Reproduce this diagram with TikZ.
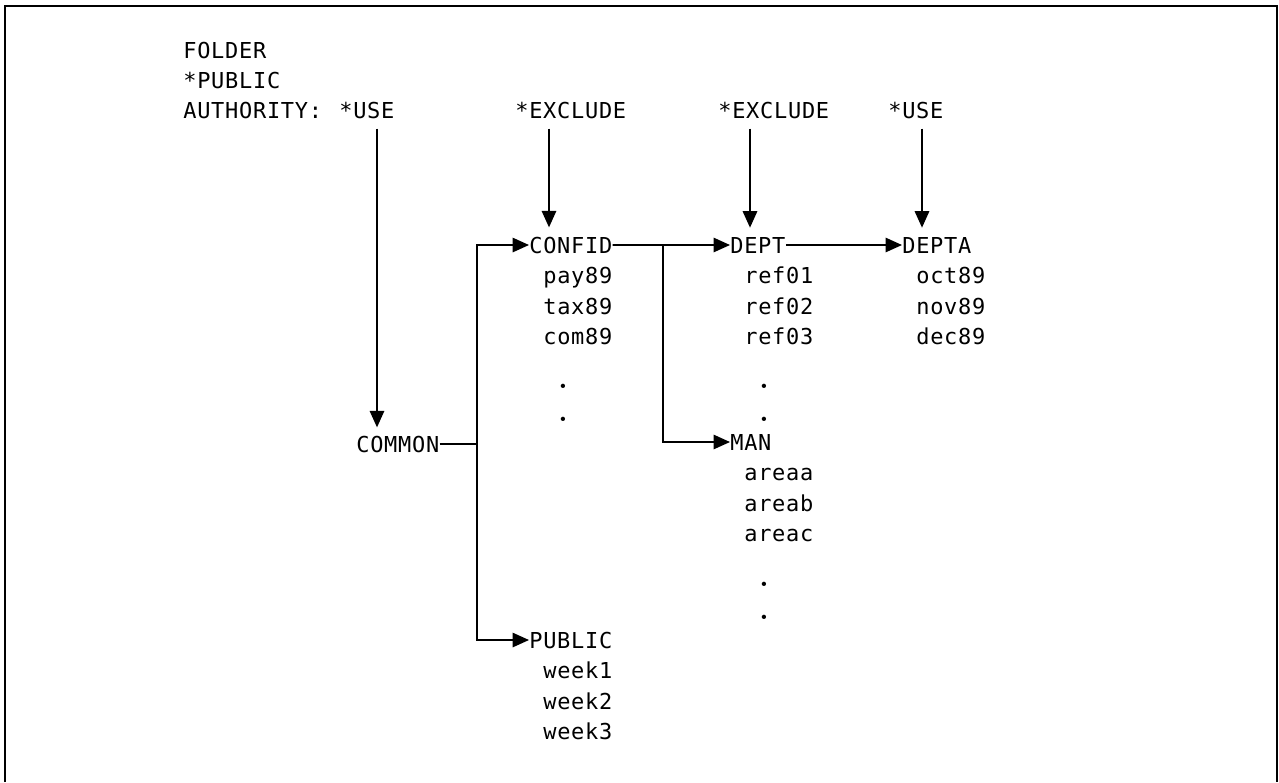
\documentclass[tikz,border=0pt]{standalone}
\usepackage{fontspec}
\setmonofont{DejaVu Sans Mono}[LetterSpace=3.3]
\usetikzlibrary{arrows.meta}
\begin{document}
\begin{tikzpicture}[x=0.02cm,y=-0.02cm,
  lbl/.style={inner sep=0pt, anchor=base west, font=\ttfamily\fontsize{12.5}{15}\selectfont},
  dotlbl/.style={inner sep=0pt, anchor=base, text height=0.1cm, text depth=0pt, font=\rmfamily\bfseries\fontsize{17}{18}\selectfont},
  conn/.style={line width=0.9pt},
  tip/.tip={Triangle[length=0.33cm,width=0.29cm]},
  arr/.style={conn, -tip},
  frame/.style={line width=1.1pt}]
\useasboundingbox (0,0) rectangle (1279,782);
\draw[frame] (5,782) -- (5,6) -- (1277,6) -- (1277,782);

% header
\node[lbl] (folder) at (183,58) {FOLDER};
\node[lbl] (pub) at (183,88) {*PUBLIC};
\node[lbl] (auth) at (183,118) {AUTHORITY:};
\node[lbl] (use1) at (339,118) {*USE};
\node[lbl] (ex1) at (515,118) {*EXCLUDE};
\node[lbl] (ex2) at (718,118) {*EXCLUDE};
\node[lbl] (use2) at (888,118) {*USE};

% folders
\node[lbl] (common) at (356,452) {COMMON};
\node[lbl] (confid) at (529,253) {CONFID};
\node[lbl] (c1) at (543,283.5) {pay89};
\node[lbl] (c2) at (543,314) {tax89};
\node[lbl] (c3) at (543,344.5) {com89};
\node[dotlbl] (cd1) at (563,388) {.};
\node[dotlbl] (cd2) at (563,421) {.};

\node[lbl] (public) at (529,648) {PUBLIC};
\node[lbl] (p1) at (543,678.5) {week1};
\node[lbl] (p2) at (543,709) {week2};
\node[lbl] (p3) at (543,739.5) {week3};

\node[lbl] (dept) at (730,253) {DEPT};
\node[lbl] (d1) at (744,283.5) {ref01};
\node[lbl] (d2) at (744,314) {ref02};
\node[lbl] (d3) at (744,344.5) {ref03};
\node[dotlbl] (dd1) at (764,388) {.};
\node[dotlbl] (dd2) at (764,421) {.};

\node[lbl] (man) at (730,450) {MAN};
\node[lbl] (m1) at (744,480.5) {areaa};
\node[lbl] (m2) at (744,511) {areab};
\node[lbl] (m3) at (744,541.5) {areac};
\node[dotlbl] (md1) at (764,586) {.};
\node[dotlbl] (md2) at (764,619) {.};

\node[lbl] (depta) at (902,253) {DEPTA};
\node[lbl] (e1) at (916,283.5) {oct89};
\node[lbl] (e2) at (916,314) {nov89};
\node[lbl] (e3) at (916,344.5) {dec89};

% guide coordinates
\coordinate (a1) at (377,0);
\coordinate (a2) at (549,0);
\coordinate (a3) at (750,0);
\coordinate (a4) at (922,0);
\coordinate (tx) at (477,0);
\coordinate (bx) at (663,0);

% authority arrows
\draw[arr, shorten <=0.2cm, shorten >=0.16cm] (use1.south -| a1) -- (common.north -| a1);
\draw[arr, shorten <=0.2cm, shorten >=0.18cm] (ex1.south -| a2) -- (confid.north -| a2);
\draw[arr, shorten <=0.2cm, shorten >=0.18cm] (ex2.south -| a3) -- (dept.north -| a3);
\draw[arr, shorten <=0.2cm, shorten >=0.18cm] (use2.south -| a4) -- (depta.north -| a4);

% tree connectors
\draw[conn] (common.east) -- (common.east -| tx);
\draw[conn, tip-tip] (confid.west) -| (tx |- public.west) -- (public.west);
\draw[arr] (confid.east) -- (dept.west);
\draw[arr] (confid.east -| bx) |- (man.west);
\draw[arr] (dept.east) -- (depta.west);
\end{tikzpicture}
\end{document}
